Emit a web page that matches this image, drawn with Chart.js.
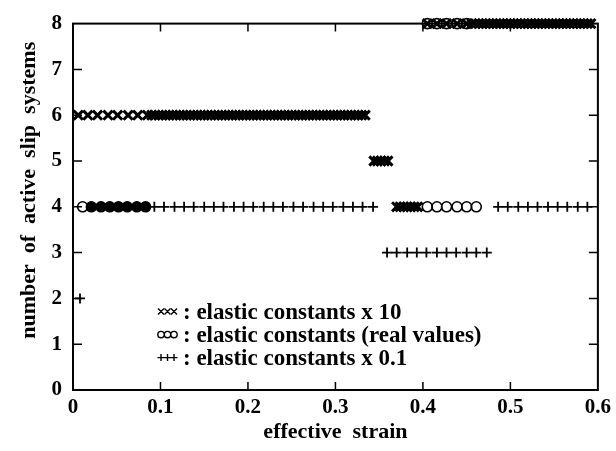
<!DOCTYPE html>
<html>
<head>
<meta charset="utf-8">
<script src="https://cdn.jsdelivr.net/npm/chart.js@4"></script>
<style>
  html, body { margin: 0; padding: 0; background: #fff; }
  #wrap { width: 616px; height: 451px; }
</style>
</head>
<body>
<div id="wrap"><canvas id="chart" width="616" height="451"></canvas></div>
<script>
// elastic constants x 10 (crosses)
const tenAt6 = [0.006,0.017,0.028,0.040,0.051,0.063,0.074,0.085,
  0.090,0.094,0.098,0.102,0.106,0.110,0.114,0.118,0.122,0.126,0.130,0.134,0.138,0.142,0.146,0.150,
  0.154,0.158,0.162,0.166,0.170,0.174,0.178,0.182,0.186,0.190,0.194,0.198,0.202,0.206,0.210,0.214,
  0.218,0.222,0.226,0.230,0.234,0.238,0.242,0.246,0.250,0.254,0.258,0.262,0.266,0.270,0.274,0.278,
  0.282,0.286,0.290,0.294,0.298,0.302,0.306,0.310,0.314,0.318,0.322,0.326,0.330,0.334];
const tenAt5 = [0.344,0.348,0.352,0.356,0.360];
const tenAt4 = [0.370,0.374,0.378,0.382,0.386,0.390,0.394];
const tenAt8 = [0.405,0.416,0.427,0.439,0.450,
  0.456,0.460,0.464,0.468,0.472,0.476,0.480,0.484,0.488,0.492,0.496,0.500,0.504,0.508,0.512,0.516,
  0.520,0.524,0.528,0.532,0.536,0.540,0.544,0.548,0.552,0.556,0.560,0.564,0.568,0.572,0.576,0.580,
  0.584,0.588,0.592];

// elastic constants, real values (circles)
const realAt4 = [0.011,0.021,0.032,0.042,0.052,0.062,0.073,0.083,
  0.405,0.416,0.427,0.439,0.450,0.461];
const realAt8 = [0.405,0.416,0.427,0.439,0.450];

// elastic constants x 0.1 (pluses)
const tenthAt2 = [0.008];
const tenthAt4 = [0.021,0.032,0.042,0.052,0.062,0.073,0.083,
  0.093,0.104,0.116,0.127,0.138,0.150,0.161,0.172,0.184,0.195,0.206,0.218,0.229,0.240,0.252,0.263,
  0.275,0.286,0.297,0.309,0.320,0.331,0.343,
  0.486,0.497,0.509,0.520,0.531,0.543,0.554,0.565,0.577,0.588];
const tenthAt3 = [0.359,0.370,0.382,0.393,0.404,0.416,0.427,0.438,0.450,0.461,0.473];

const xTickLabels = ['0','0.1','0.2','0.3','0.4','0.5','0.6'];
const yTickLabels = ['0','1','2','3','4','5','6','7','8'];
const legendLabels = [': elastic constants x 10', ': elastic constants (real values)', ': elastic constants x 0.1'];

const pts = (xs, y) => xs.map(x => ({x, y}));
const FONT = "'Liberation Serif', 'Times New Roman', serif";

// frame, inner tick marks and the in-plot legend
const framePlugin = {
  id: 'frame',
  afterDraw(c){
    const {ctx, chartArea: a, scales} = c;
    ctx.save();
    ctx.strokeStyle = '#000';
    ctx.lineWidth = 2;
    ctx.strokeRect(a.left, a.top, a.right - a.left, a.bottom - a.top);
    ctx.lineWidth = 1.5;
    ctx.beginPath();
    for(let v = 1; v < 6; v++){
      const px = scales.x.getPixelForValue(v/10);
      ctx.moveTo(px, a.bottom); ctx.lineTo(px, a.bottom - 8);
      ctx.moveTo(px, a.top); ctx.lineTo(px, a.top + 8);
    }
    for(let v = 1; v < 8; v++){
      const py = scales.y.getPixelForValue(v);
      ctx.moveTo(a.left, py); ctx.lineTo(a.left + 9, py);
      ctx.moveTo(a.right, py); ctx.lineTo(a.right - 9, py);
    }
    ctx.stroke();

    // legend
    const lx = a.left + 88, ly = a.top + 288, gap = 23;
    ctx.font = `bold 23px ${FONT}`;
    ctx.fillStyle = '#000';
    ctx.textBaseline = 'middle';
    ctx.lineWidth = 1.4;
    legendLabels.forEach((t, i) => {
      const y = ly + i*gap;
      ctx.beginPath();
      for(let k = 0; k < 3; k++){
        const cx = lx + k*6.5;
        if(i === 0){
          ctx.moveTo(cx-3, y-3); ctx.lineTo(cx+3, y+3);
          ctx.moveTo(cx-3, y+3); ctx.lineTo(cx+3, y-3);
        } else if(i === 1){
          ctx.moveTo(cx+3.2, y); ctx.arc(cx, y, 3.2, 0, Math.PI*2);
        } else {
          ctx.moveTo(cx-3.5, y); ctx.lineTo(cx+3.5, y);
          ctx.moveTo(cx, y-3.5); ctx.lineTo(cx, y+3.5);
        }
      }
      ctx.stroke();
      ctx.fillText(t, lx + 22, y + 1);
    });
    ctx.restore();
  }
};

const base = { showLine: false, clip: false, borderColor: '#000', backgroundColor: '#000' };

new Chart(document.getElementById('chart'), {
  type: 'scatter',
  data: {
    datasets: [
      { ...base, label: 'x 10', data: [...pts(tenAt6, 6), ...pts(tenAt5, 5), ...pts(tenAt4, 4), ...pts(tenAt8, 8)],
        pointStyle: 'crossRot', pointRadius: 6.5, borderWidth: 3 },
      { ...base, label: 'real values', data: [...pts(realAt4, 4), ...pts(realAt8, 8)],
        pointStyle: 'circle', pointRadius: 5, borderWidth: 1.6,
        // the early points are drawn over by the pluses and read as solid dots
        backgroundColor: (ctx) => (ctx.raw && ctx.raw.y === 4 && ctx.raw.x > 0.015 && ctx.raw.x < 0.09) ? '#000' : 'rgba(0,0,0,0)' },
      { ...base, label: 'x 0.1', data: [...pts(tenthAt2, 2), ...pts(tenthAt4, 4), ...pts(tenthAt3, 3)],
        pointStyle: 'cross', pointRadius: 5, borderWidth: 1.8 }
    ]
  },
  options: {
    responsive: false,
    animation: false,
    layout: { padding: { top: 15, right: 16, left: 0, bottom: 0 } },
    plugins: { legend: { display: false }, tooltip: { enabled: false } },
    scales: {
      x: {
        type: 'linear', min: 0, max: 0.6,
        afterFit: (s) => { s.height = 61; },
        grid: { display: false, drawTicks: false },
        border: { display: false },
        ticks: { stepSize: 0.1, padding: 5, color: '#000', font: { family: FONT, size: 21, weight: 'bold' },
          callback: (v, i) => xTickLabels[i] },
        title: { display: true, text: 'effective  strain', color: '#000', padding: { top: 0, bottom: 5 },
          font: { family: FONT, size: 22, weight: 'bold' } }
      },
      y: {
        type: 'linear', min: 0, max: 8,
        afterFit: (s) => { s.width = 73; },
        grid: { display: false, drawTicks: false },
        border: { display: false },
        ticks: { stepSize: 1, padding: 11, color: '#000', font: { family: FONT, size: 21, weight: 'bold' },
          callback: (v, i) => yTickLabels[i] },
        title: { display: true, text: '      number  of  active  slip  systems', color: '#000', padding: { top: 16, bottom: 0 },
          font: { family: FONT, size: 22, weight: 'bold' } }
      }
    }
  },
  plugins: [framePlugin]
});
</script>
</body>
</html>
